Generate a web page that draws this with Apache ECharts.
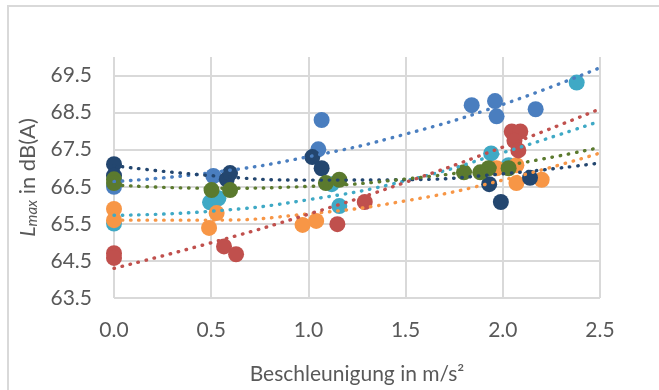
<!DOCTYPE html>
<html>
<head>
<meta charset="utf-8">
<script src="https://cdn.jsdelivr.net/npm/echarts@6/dist/echarts.min.js"></script>
<style>
  html, body { margin: 0; padding: 0; background: #fff; }
  #chart { width: 659px; height: 390px; }
</style>
</head>
<body>
<div id="chart"></div>
<script>
// Messpunkte [Beschleunigung, Lmax]
var navyPts = [[0, 67.11], [0, 66.8], [0.58, 66.7], [0.597, 66.87], [1.02, 67.3], [1.068, 67.0], [1.93, 66.57], [1.99, 66.09], [2.14, 66.74]]
var bluePts = [[0, 66.5], [0.511, 66.79], [1.051, 67.51], [1.068, 68.3], [1.84, 68.7], [1.96, 68.81], [1.968, 68.4], [2.169, 68.59]]
var tealPts = [[0, 65.51], [0.494, 66.08], [0.537, 66.19], [1.12, 66.57], [1.159, 65.98], [1.94, 67.4], [2.03, 67.08], [2.38, 69.31]]
var orangePts = [[0, 65.9], [0, 65.6], [0.489, 65.39], [0.528, 65.79], [0.97, 65.47], [1.04, 65.58], [1.968, 67.0], [2.07, 67.08], [2.07, 66.6], [2.2, 66.69]]
var redPts = [[0, 64.71], [0, 64.58], [0.566, 64.89], [0.628, 64.68], [1.149, 65.49], [1.29, 66.09], [2.046, 67.99], [2.09, 67.99], [2.06, 67.74], [2.08, 67.48]]
var greenPts = [[0, 66.7], [0, 66.6], [0.502, 66.41], [0.597, 66.41], [1.09, 66.6], [1.159, 66.69], [1.8, 66.89], [1.884, 66.89], [1.927, 67.0], [2.03, 67.0]]

// Trendlinien
var trendX = [0, 0.5, 1.0, 1.5, 2.0, 2.5]
var navyTrend = [67.07, 66.80, 66.68, 66.69, 66.85, 67.14]
var blueTrend = [66.64, 66.88, 67.31, 67.92, 68.72, 69.71]
var tealTrend = [65.73, 65.84, 66.15, 66.66, 67.42, 68.27]
var orangeTrend = [65.60, 65.60, 65.77, 66.12, 66.68, 67.41]
var redTrend = [64.30, 64.99, 65.76, 66.62, 67.57, 68.60]
var greenTrend = [66.55, 66.46, 66.51, 66.71, 67.06, 67.56]

var colors = {
    navy: '#23466f',
    blue: '#4a7ebf',
    teal: '#3fa9c5',
    orange: '#f79646',
    red: '#c0504d',
    green: '#5b7a2e'
}

var font = 'Lato'
var textColor = '#595959'

function dots(pts, color) {
    return {
        type: 'scatter',
        data: pts,
        symbolSize: 16,
        z: 2,
        itemStyle: { color: color, opacity: 1 },
        silent: true
    }
}

function trend(vals, color) {
    var d = []
    trendX.forEach(function (x, i) { d.push([x, vals[i]]) })
    return {
        type: 'line',
        data: d,
        smooth: true,
        showSymbol: false,
        z: 5,
        lineStyle: { color: color, width: 3.4, type: [0.5, 7.8], cap: 'round' },
        silent: true
    }
}

var chart = echarts.init(document.getElementById('chart'))
var option = {
    animation: false,
    backgroundColor: '#fff',
    graphic: [{
        type: 'rect',
        shape: { x: 8, y: 6, width: 720, height: 420 },
        style: { fill: 'none', stroke: '#d9d9d9', lineWidth: 2 },
        silent: true
    }],
    grid: { left: 114, right: 59, top: 57, bottom: 77 },
    xAxis: {
        type: 'value',
        min: 0,
        max: 2.5,
        interval: 0.5,
        name: 'Beschleunigung in m/s²',
        nameLocation: 'middle',
        nameGap: 66,
        nameTextStyle: { fontFamily: font, fontSize: 21, color: textColor },
        axisLine: { show: false },
        axisTick: { show: false },
        axisLabel: {
            margin: 22,
            fontFamily: font,
            fontSize: 21,
            color: textColor,
            formatter: function (v) { return v.toFixed(1) }
        },
        splitLine: { show: true, lineStyle: { color: '#d9d9d9', width: 2 } }
    },
    yAxis: {
        type: 'value',
        min: 63.5,
        max: 70,
        interval: 1,
        name: '{i|L}{sub|max}{n| in dB(A)}',
        nameLocation: 'middle',
        nameRotate: 90,
        nameGap: 71,
        nameTextStyle: {
            rich: {
                i: { fontFamily: font, fontSize: 22, fontStyle: 'italic', color: textColor, lineHeight: 24 },
                sub: { fontFamily: font, fontSize: 15, fontStyle: 'italic', color: textColor, verticalAlign: 'bottom', lineHeight: 24, padding: [10, 0, 0, 0] },
                n: { fontFamily: font, fontSize: 22, color: textColor, lineHeight: 24 }
            }
        },
        axisLine: { show: false },
        axisTick: { show: false },
        axisLabel: {
            margin: 22,
            fontFamily: font,
            fontSize: 21,
            color: textColor,
            showMaxLabel: false,
            formatter: function (v) { return v.toFixed(1) }
        },
        splitLine: { show: true, showMaxLine: false, lineStyle: { color: '#d9d9d9', width: 2 } }
    },
    series: [
        dots(bluePts, colors.blue),
        dots(tealPts, colors.teal),
        dots(orangePts, colors.orange),
        dots(redPts, colors.red),
        dots(navyPts, colors.navy),
        dots(greenPts, colors.green),
        trend(blueTrend, colors.blue),
        trend(tealTrend, colors.teal),
        trend(orangeTrend, colors.orange),
        trend(redTrend, colors.red),
        trend(navyTrend, colors.navy),
        trend(greenTrend, colors.green)
    ]
}
chart.setOption(option)
</script>
</body>
</html>
